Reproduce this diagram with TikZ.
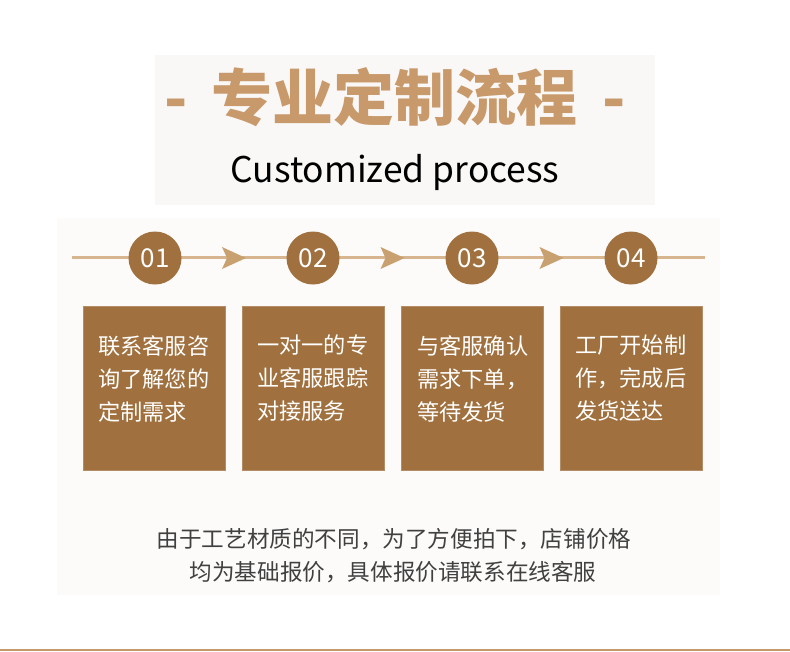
\documentclass[tikz,border=0pt]{standalone}
\usepackage{fontspec}
\setmainfont{Noto Sans CJK SC}
\usetikzlibrary{calc}
\definecolor{tan}{RGB}{200,153,106}
\definecolor{linetan}{RGB}{214,181,143}
\definecolor{brownbox}{RGB}{160,113,63}
\definecolor{arrowtan}{RGB}{201,160,111}
\definecolor{panel}{RGB}{252,251,250}
\definecolor{titlepanel}{RGB}{249,248,247}
\definecolor{bottomline}{RGB}{196,154,108}
\tikzset{
  numdot/.style={circle,fill=brownbox,minimum size=53pt,inner sep=0pt,text=white,font=\fontsize{26}{26}\selectfont},
  stepbox/.style={rectangle,fill=brownbox,draw=brownbox!80!white,line width=0.5pt,minimum width=142pt,minimum height=164pt,inner sep=0pt},
  boxtext/.style={anchor=north west,text=white,align=left,inner sep=0pt,font=\fontsize{22.2}{33}\selectfont},
  note/.style={text=black!75,align=center,inner sep=0pt,font=\fontsize{22.6}{33}\selectfont}
}
\begin{document}
\begin{tikzpicture}[x=1pt,y=-1pt]
\useasboundingbox (0,0) rectangle (790,651);
\fill[white] (0,0) rectangle (790,651);
\fill[titlepanel] (155,55) rectangle (655,205);
\fill[panel] (57,218) rectangle (720,595);
\draw[bottomline,line width=1.2pt] (0,650) -- (790,650);
% title
\node[text=tan,inner sep=0pt,font=\fontsize{61}{61}\selectfont\bfseries] (title) at (395,97) {-\hspace{0.4em}专业定制流程\hspace{0.4em}-};
\node[text=black,inner sep=0pt,font=\fontsize{35.4}{35.4}\selectfont] (subtitle) at (395,172) {Customized process};
% timeline
\coordinate (L) at (72,257);
\coordinate (R) at (705,257);
\draw[linetan,line width=3pt] (L) -- (R);
\node[numdot] (c1) at (155,258) {01};
\node[numdot] (c2) at (313,258) {02};
\node[numdot] (c3) at (472,258) {03};
\node[numdot] (c4) at (631,258) {04};
\foreach \a/\b in {c1/c2,c2/c3,c3/c4}{
  \fill[arrowtan] ($(\a)!0.5!(\b)+(-12,-11)$) -- ++(24,11) -- ++(-24,11) -- ++(5,-11) -- cycle;
}
% boxes
\node[stepbox] (b1) at (154,388) {};
\node[stepbox] (b2) at (313,388) {};
\node[stepbox] (b3) at (472.5,388) {};
\node[stepbox] (b4) at (631,388) {};
\node[boxtext] (t1) at (98,335) {联系客服咨\\询了解您的\\定制需求};
\node[boxtext] (t2) at (257,335) {一对一的专\\业客服跟踪\\对接服务};
\node[boxtext] (t3) at (417,335) {与客服确认\\需求下单，\\等待发货};
\node[boxtext] (t4) at (575,335) {工厂开始制\\作，完成后\\发货送达};
% note
\node[note] (n1) at (394,539) {由于工艺材质的不同，为了方便拍下，店铺价格};
\node[note] (n2) at (393,572) {均为基础报价，具体报价请联系在线客服};
\end{tikzpicture}
\end{document}
